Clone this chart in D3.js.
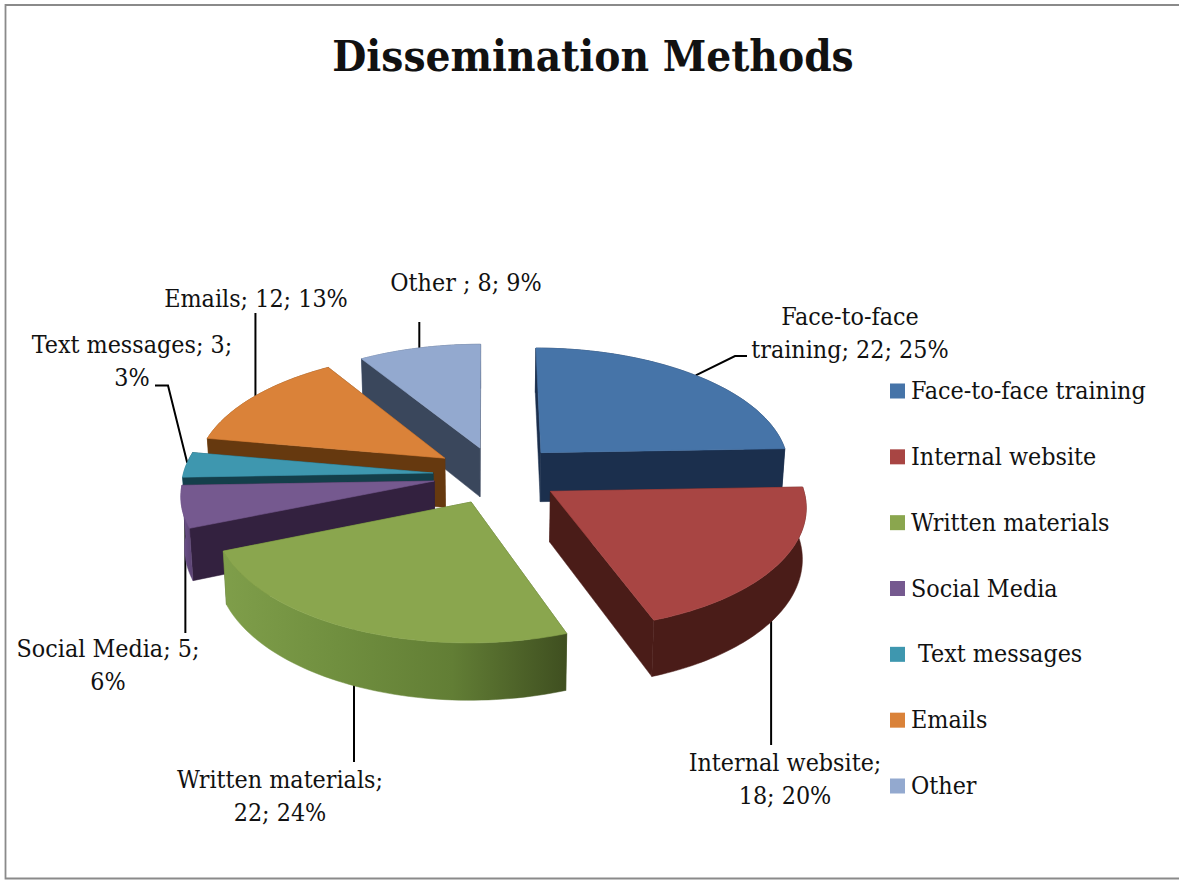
<!DOCTYPE html>
<html><head><meta charset="utf-8">
<script src="https://cdn.jsdelivr.net/npm/d3@7"></script>
<style>
html,body{margin:0;padding:0;background:#fff;overflow:hidden}
text{font-family:"DejaVu Serif Condensed","DejaVu Serif",serif;font-stretch:condensed;fill:#111;white-space:pre}
</style></head><body><svg id="c" width="1179" height="880"></svg>
<script>
// ---- data ----
const categories = ["Face-to-face training","Internal website","Written materials","Social Media"," Text messages","Emails","Other"];
const values = [22,18,22,5,3,12,8];
const percents = [25,20,24,6,3,13,9];
const title = "Dissemination Methods";
// ---- styles ----
const topColors = ["#4674A8","#A84543","#8AA64E","#75598F","#3E97AF","#DA8239","#93A9CF"];
const radialColors = ["#1B2F4D","#4A1C18","#4A5F28","#33213F","#143F4B","#66390F","#3A475C"];
const outerStops = [["#1B2F4D","#1B2F4D"],["#4A1C18","#4A1C18"],["#7F9E4A","#708F3F","#627E35","#3F4F20"],["#6F5490","#5F4678"],["#2A7A8E","#143F4B"],["#8A5418","#66390F"],["#5E7092","#3A475C"]];
// ---- 3D layout (plane units) ----
const cx=487, cy=475, R=250, tilt=.48, persp=.105, depthPx=50, converge=.012;
const explodeX=[.22,.25,-.062,-.21,-.216,-.171,-.029];
const explodeY=[.19,-.134,-.22,-.05,.017,.142,.23];
const drawOrder=[6,0,5,4,3,1,2];
const xScale=d3.scaleLinear().domain([-1,1]).range([cx-R,cx+R]);
const yScale=d3.scaleLinear().domain([-1,1]).range([cy+R*tilt,cy-R*tilt]);
function proj(X,Y,down){const s=1/(1+persp*Y);
  const k=down?1-converge:1;
  return [cx+(xScale(X*s)-cx)*k, yScale(Y*s)+(down?depthPx*s:0)];}

const svg=d3.select("#c");
svg.append("path").attr("d","M1185,5H5.5V878.5H1185").attr("fill","none").attr("stroke","#8a8a8a").attr("stroke-width",1.8);
svg.append("text").text(title).attr("x",593).attr("y",71).attr("text-anchor","middle").attr("font-size",43.7).attr("font-weight","bold").attr("fill","#000");

const pie=d3.pie().sort(null).value(d=>d);
const arcs=pie(values);
const rim=(i,th)=>[explodeX[i]+Math.sin(th),explodeY[i]+Math.cos(th)];
const line=d3.line();
const defs=svg.append("defs");

// leaders (drawn beneath the slices, so they emerge from their edges)
const leaderAngle=[44,127,204,252,275,304.5,344];
const leaderTail=[[[735,356],[747,356]],[[null,745]],[[null,762]],[[null,633]],[[168,385.5],[155,385.5]],[[null,313]],[[null,322]]];
arcs.forEach((a,i)=>{
  const w=rim(i,leaderAngle[i]*Math.PI/180);const p=proj(w[0],w[1],false);
  const pts=[p].concat(leaderTail[i].map(q=>[q[0]==null?p[0]:q[0],q[1]]));
  svg.append("path").attr("d",line(pts)).attr("fill","none").attr("stroke","#000").attr("stroke-width",2);
});

// slices
drawOrder.forEach(i=>{
  const a=arcs[i];
  const ths=d3.range(0,61).map(k=>a.startAngle+(a.endAngle-a.startAngle)*k/60);
  const worldArc=ths.map(t=>rim(i,t));
  const apex=[explodeX[i],explodeY[i]];
  const top=worldArc.map(w=>proj(w[0],w[1],false));
  const bot=worldArc.map(w=>proj(w[0],w[1],true));
  const grad=defs.append("linearGradient").attr("id","g"+i).attr("gradientUnits","userSpaceOnUse")
    .attr("x1",d3.min(top,d=>d[0])).attr("x2",d3.max(top,d=>d[0])).attr("y1",0).attr("y2",0);
  outerStops[i].forEach((c,k)=>grad.append("stop").attr("offset",k/(outerStops[i].length-1)).attr("stop-color",c));
  const radial=w=>[proj(apex[0],apex[1],false),proj(w[0],w[1],false),proj(w[0],w[1],true),proj(apex[0],apex[1],true)];
  const walls=[
    {y:d3.mean(worldArc,w=>w[1]),pts:top.concat(bot.slice().reverse()),fill:"url(#g"+i+")"},
    {y:(apex[1]+worldArc[0][1])/2,pts:radial(worldArc[0]),fill:radialColors[i]},
    {y:(apex[1]+worldArc[60][1])/2,pts:radial(worldArc[60]),fill:radialColors[i]}
  ].sort((p,q)=>q.y-p.y);
  walls.forEach(w=>svg.append("path").attr("d",line(w.pts)+"Z").attr("fill",w.fill).attr("stroke",w.fill).attr("stroke-width",.5));
  svg.append("path").attr("d",line([proj(apex[0],apex[1],false)].concat(top))+"Z").attr("fill",topColors[i]).attr("stroke",topColors[i]).attr("stroke-width",.6);
});

// data labels
const labelLines=[["Face-to-face","training; 22; 25%"],["Internal website;","18; 20%"],["Written materials;","22; 24%"],["Social Media; 5;","6%"],["Text messages; 3;","3%"],["Emails; 12; 13%"],["Other ; 8; 9%"]];
const labelX=[850,785,280,108,132,256,466];
const labelY=[325,771,788,657,353,307,291];
const lineGap=33;
const labelFont=24.8;
labelLines.forEach((ls,i)=>ls.forEach((t,k)=>{
  svg.append("text").text(t).attr("x",labelX[i]).attr("y",labelY[i]+k*lineGap).attr("text-anchor","middle").attr("font-size",labelFont);
}));

// legend
const legendY=d3.scalePoint().domain(categories).range([391,786]);
const legend=svg.append("g").selectAll("g").data(categories).join("g").attr("transform",d=>`translate(890,${legendY(d)})`);
legend.append("rect").attr("x",0).attr("y",-7.5).attr("width",15).attr("height",15).attr("fill",(d,i)=>topColors[i]);
legend.append("text").text(d=>d).attr("x",21).attr("y",8).attr("font-size",labelFont);
</script></body></html>
